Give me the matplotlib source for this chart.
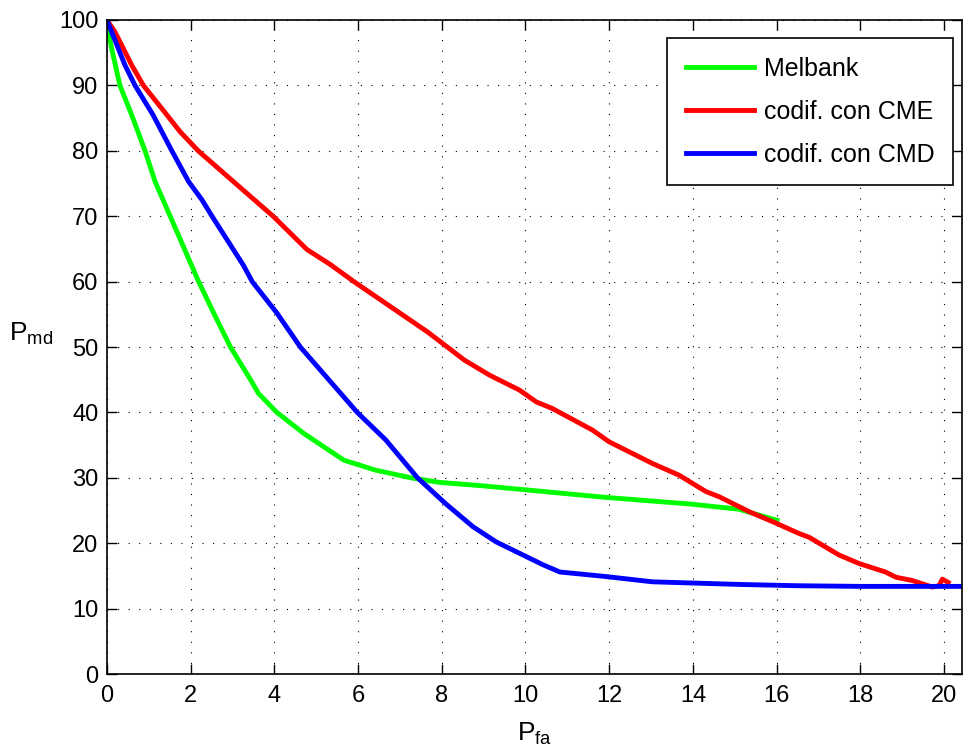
import numpy as np
import matplotlib
matplotlib.use('Agg')
import matplotlib.pyplot as plt

plt.rcParams['font.family'] = ['Liberation Sans', 'DejaVu Sans']

# Melbank curve
mel_x = [0, 0.03, 0.11, 0.31, 0.59, 0.91, 1.15, 1.51, 2.19, 2.55, 2.95, 3.43,
         3.62, 4.06, 4.7, 5.66, 6.4, 7.26, 7.95, 8.93, 9.94, 11.93, 13.92, 15.1, 16.01]
mel_y = [100, 98.2, 95.7, 90, 85.5, 80, 75.3, 70, 60, 55.2, 50, 45,
         42.9, 40, 36.8, 32.7, 31.2, 30, 29.3, 28.8, 28.2, 27, 26, 25.2, 23.5]

# codif. con CME
cme_x = [0, 0.19, 0.59, 0.87, 1.43, 1.75, 2.18, 3.02, 3.97, 4.78, 5.34, 5.9, 7.66,
         8.05, 8.54, 9.14, 9.86, 10.26, 10.64, 11.6, 12.0, 13.03, 13.67, 14.31, 14.63,
         15.35, 16.01, 16.53, 16.78, 17.49, 17.97, 18.6, 18.85, 19.24, 19.72, 19.88,
         19.96, 20.1]
cme_y = [100, 98.2, 93.1, 90, 85.5, 82.9, 80, 75.3, 70, 64.9, 62.6, 60, 52.3,
         50.4, 48, 45.7, 43.4, 41.6, 40.6, 37.3, 35.5, 32.2, 30.4, 27.9, 27.1,
         24.8, 23.0, 21.5, 20.9, 18.2, 16.9, 15.6, 14.8, 14.3, 13.3, 13.5,
         14.5, 14.0]

# codif. con CMD
cmd_x = [0, 0.11, 0.43, 0.67, 1.1, 1.55, 1.95, 2.27, 2.51, 2.87, 3.26, 3.47, 4.06, 4.62,
         5.3, 5.98, 6.66, 7.42, 8.1, 8.75, 9.3, 9.94, 10.42, 10.82, 11.93, 13.03,
         15.1, 16.5, 18.0, 20.43]
cmd_y = [100, 98.2, 93.1, 90, 85.5, 80, 75.3, 72.5, 70, 66.4, 62.5, 60, 55.2, 50,
         45, 40, 35.8, 30, 26.0, 22.5, 20.2, 18.2, 16.7, 15.6, 14.9, 14.1,
         13.7, 13.5, 13.4, 13.4]

fig = plt.figure(figsize=(9.75, 7.49), dpi=100)
ax = fig.add_axes([0.1097, 0.1001, 0.877, 0.8732])

ax.plot(mel_x, mel_y, color=(0, 1, 0), lw=3.5, label='Melbank')
ax.plot(cme_x, cme_y, color=(1, 0, 0), lw=3.5, label='codif. con CME')
ax.plot(cmd_x, cmd_y, color=(0, 0, 1), lw=3.5, label='codif. con CMD')

ax.set_xlim(0, 20.43)
ax.set_ylim(0, 100)
ax.set_xticks(np.arange(0, 21, 2))
ax.set_yticks(np.arange(0, 101, 10))
ax.tick_params(direction='in', top=True, right=True, labelsize=17, length=7, width=1)
ax.tick_params(axis='x', pad=8)
ax.tick_params(axis='y', pad=6)
ax.grid(True, linestyle=(0, (1, 8.5)), color='black', linewidth=0.8)
for s in ax.spines.values():
    s.set_linewidth(1.2)

ax.set_xlabel(r'$\mathregular{P_{fa}}$', fontsize=19, labelpad=10)
ax.set_ylabel(r'$\mathregular{P_{md}}$', fontsize=19, rotation=0, labelpad=20)

leg = ax.legend(loc='upper right', bbox_to_anchor=(0.9895, 0.972), fontsize=18,
                fancybox=False, framealpha=1, edgecolor='black', borderpad=0.75,
                labelspacing=0.75, handlelength=2.7, handletextpad=0.4, borderaxespad=0)
leg.get_frame().set_linewidth(1.2)

fig.savefig('out.png', dpi=100)
